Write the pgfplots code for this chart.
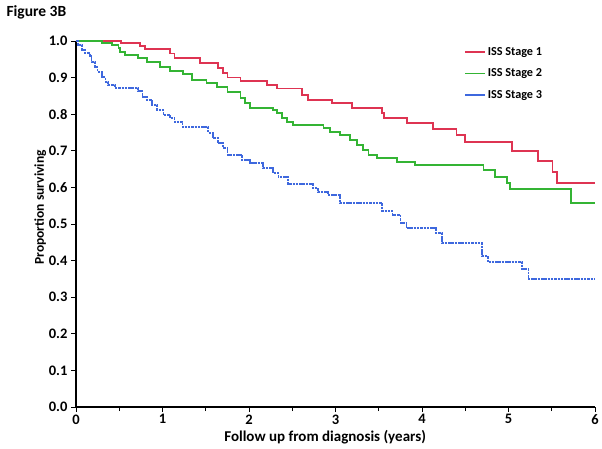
\documentclass[border=0pt]{standalone}
\usepackage{pgfplots}
\pgfplotsset{compat=1.18}
\usepackage{fontspec}
\setmainfont{Carlito}
\definecolor{cred}{RGB}{222,52,82}
\definecolor{cgreen}{RGB}{52,180,52}
\definecolor{cblue}{RGB}{62,104,222}
\begin{document}
\begin{tikzpicture}[x=1pt,y=1pt]
\path[use as bounding box] (0,0) rectangle (602,448);
\node[anchor=west,font=\fontsize{15.5}{17}\selectfont\bfseries] at (3,436) {Figure 3B};
\begin{axis}[
  at={(76pt,41pt)}, anchor=south west,
  scale only axis, width=519pt, height=366pt,
  xmin=0, xmax=6, ymin=0, ymax=1,
  axis lines=left, axis line style={line width=1.2pt,-},
  xtick={0,1,2,3,4,5,6}, minor xtick={0.5,1.5,2.5,3.5,4.5,5.5},
  ytick={0,0.1,...,1.0},
  tick align=outside, major tick length=5pt, minor tick length=4pt,
  every tick/.style={line width=1pt,black},
  /pgf/number format/assume math mode=true,
  ticklabel style={font=\fontsize{14.5}{17}\selectfont\bfseries},
  xticklabel style={yshift=1pt},
  yticklabel style={/pgf/number format/.cd,fixed,fixed zerofill,precision=1},
  xlabel={Follow up from diagnosis (years)},
  ylabel={Proportion surviving},
  xlabel style={font=\fontsize{15}{17}\selectfont\bfseries,at={(axis description cs:0.48,0)},anchor=center,yshift=-30pt},
  ylabel style={font=\fontsize{13.5}{16}\selectfont\bfseries,at={(axis description cs:-0.069,0.545)},anchor=center},
  legend style={draw=none,fill=none,at={(axis description cs:0.742,0.995)},anchor=north west,
    font=\fontsize{12.2}{14}\selectfont\bfseries,row sep=8pt},
  legend cell align=left,
  legend image code/.code={\draw[#1,solid,line width=1.5pt] (0pt,0pt) -- (20pt,0pt);},
  clip=false,
]
\addplot[const plot, cred, line width=1.7pt] coordinates {
(0,1.0) (0.52,0.995) (0.74,0.987) (0.80,0.978) (1.09,0.966) (1.14,0.953)
(1.43,0.939) (1.64,0.926) (1.70,0.913) (1.75,0.900) (1.90,0.891) (2.21,0.880)
(2.32,0.870) (2.61,0.852) (2.68,0.839) (2.96,0.830) (3.19,0.816) (3.54,0.803)
(3.56,0.790) (3.83,0.776) (4.13,0.760) (4.40,0.743) (4.50,0.724) (5.04,0.699)
(5.34,0.672) (5.51,0.642) (5.56,0.612) (6.0,0.612)};
\addlegendentry{ISS Stage 1}
\addplot[const plot, cgreen, line width=1.7pt] coordinates {
(0,1.0) (0.30,0.995) (0.42,0.989) (0.49,0.981) (0.51,0.970) (0.57,0.962)
(0.72,0.953) (0.82,0.943) (0.97,0.929) (1.09,0.918) (1.24,0.910) (1.34,0.893)
(1.51,0.885) (1.63,0.874) (1.75,0.861) (1.90,0.844) (1.95,0.830) (2.01,0.817)
(2.28,0.811) (2.32,0.803) (2.38,0.790) (2.44,0.779) (2.51,0.770) (2.86,0.762)
(2.94,0.752) (3.05,0.743) (3.17,0.730) (3.25,0.716) (3.32,0.702) (3.38,0.689)
(3.48,0.680) (3.71,0.670) (3.92,0.661) (4.71,0.648) (4.84,0.628) (4.98,0.612)
(5.02,0.596) (5.72,0.557) (6.0,0.557)};
\addlegendentry{ISS Stage 2}
\addplot[const plot, cblue, line width=1.7pt, dash pattern=on 2.5pt off 0.8pt] coordinates {
(0,1.0) (0.02,0.989) (0.07,0.975) (0.10,0.967) (0.16,0.959) (0.18,0.943)
(0.22,0.929) (0.25,0.915) (0.30,0.902) (0.34,0.888) (0.37,0.880) (0.45,0.872)
(0.72,0.863) (0.77,0.847) (0.82,0.839) (0.88,0.825) (0.94,0.811) (1.01,0.798)
(1.09,0.790) (1.14,0.779) (1.23,0.765) (1.53,0.749) (1.58,0.735) (1.64,0.721)
(1.70,0.708) (1.75,0.689) (1.92,0.675) (2.01,0.667) (2.16,0.653) (2.28,0.639)
(2.34,0.628) (2.45,0.609) (2.74,0.598) (2.80,0.587) (2.91,0.579) (3.05,0.557)
(3.54,0.536) (3.66,0.525) (3.75,0.503) (3.82,0.489) (4.16,0.475) (4.23,0.448)
(4.69,0.413) (4.76,0.396) (5.16,0.377) (5.23,0.350) (6.0,0.350)};
\addlegendentry{ISS Stage 3}
\end{axis}
\end{tikzpicture}
\end{document}
